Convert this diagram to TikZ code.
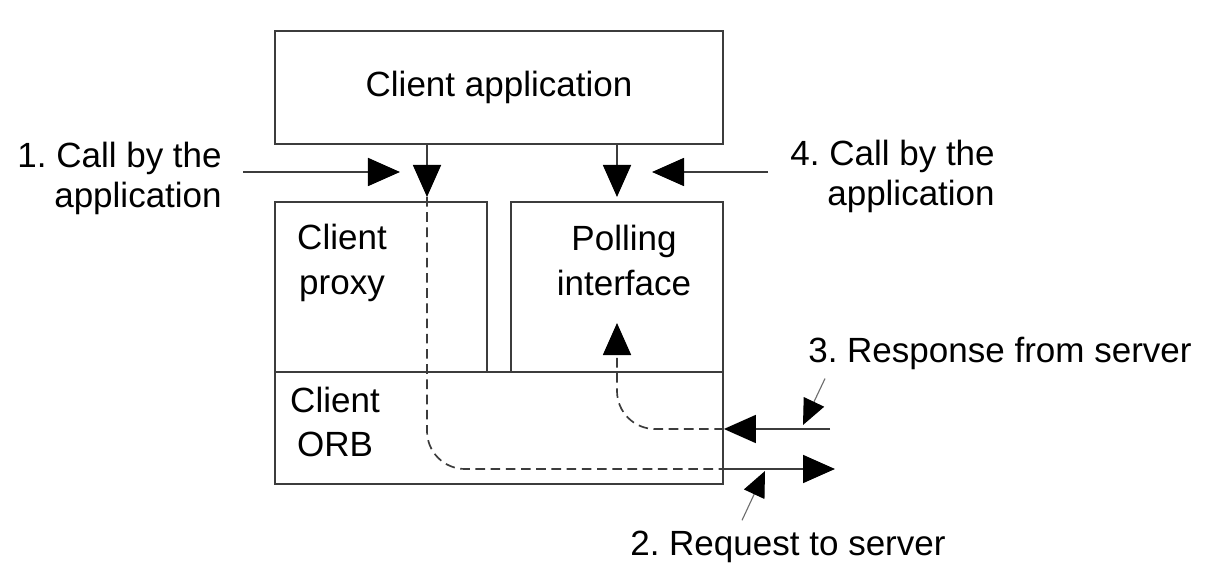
\documentclass[tikz,border=0pt]{standalone}
\usepackage{fontspec}
\setmainfont{Liberation Sans}
\usetikzlibrary{arrows.meta}
\definecolor{linegray}{RGB}{60,60,60}
\definecolor{leadgray}{RGB}{110,110,110}
\frenchspacing

\begin{document}
\begin{tikzpicture}[x=0.025cm, y=-0.025cm,
    every node/.style={font=\fontsize{24.9}{31.5}\selectfont, inner sep=0pt},
    box/.style={draw=linegray, line width=1.2pt},
    lbl/.style={font=\fontsize{24.9}{28.5}\selectfont},
    flow/.style={draw=linegray, line width=1.2pt, -{Triangle[length=0.8cm, width=0.7cm, color=black]}},
    back/.style={draw=linegray, line width=1.2pt, dash pattern=on 0.24cm off 0.14cm, rounded corners=0.95cm},
    lead/.style={draw=leadgray, line width=0.8pt, -{Triangle[length=0.64cm, width=0.56cm, color=black]}}]
    \useasboundingbox (0,0) rectangle (1230,563);

    % Client application
    \node[box, minimum width=11.2cm, minimum height=2.825cm] (app) at (499,87.5) {Client application};

    % Client proxy and polling interface
    \node[box, minimum width=5.3cm, minimum height=4.25cm] (proxy) at (381,287) {};
    \node[align=center] (proxytxt) at (342,263) {Client\\proxy};
    \node[box, minimum width=5.3cm, minimum height=4.25cm] (poll) at (617,287) {};
    \node[align=center] (polltxt) at (624,260.5) {Polling\\interface};

    % Client ORB
    \node[box, minimum width=11.2cm, minimum height=2.8cm] (orb) at (499,428) {};
    \node[align=center] (orbtxt) at (335,422) {Client\\ORB};

    % labels
    \node[lbl, align=right, anchor=east] (call1) at (222,178) {1. Call by the\\application};
    \node[lbl, align=right, anchor=east] (call4) at (995,176) {4. Call by the\\application};
    \node[lbl, anchor=base west] (resp) at (808,363) {3. Response from server};
    \node[lbl, anchor=base west] (req) at (630,555) {2. Request to server};

    % free ends
    \coordinate (reqtop) at (427,197);
    \coordinate (polltop) at (617,197);
    \coordinate (in1) at (243,172);
    \coordinate (hit1) at (400,172);
    \coordinate (in4) at (768,172);
    \coordinate (hit4) at (652,172);
    \coordinate (reqout) at (835,469);
    \coordinate (resin) at (830,429);
    \coordinate (restip) at (617,323);
    \coordinate (tip3) at (803,425);
    \coordinate (tip2) at (765,471);

    % calls from the application
    \draw[flow] (app.south -| reqtop) -- (reqtop);
    \draw[flow] (app.south -| polltop) -- (polltop);
    \draw[flow] (in1) -- (hit1);
    \draw[flow] (in4) -- (hit4);

    % request
    \draw[back] (reqtop) |- (orb.east |- reqout);
    \draw[flow] (orb.east |- reqout) -- (reqout);

    % response
    \draw[flow] (resin) -- (orb.east |- resin);
    \draw[back, -{Triangle[length=0.8cm, width=0.7cm, color=black]}] (orb.east |- resin) -| (restip);

    % leaders
    \draw[lead] ([xshift=0.425cm, yshift=-0.2cm]resp.south west) -- (tip3);
    \draw[lead] ([xshift=2.8cm, yshift=0.25cm]req.north west) -- (tip2);
\end{tikzpicture}
\end{document}
